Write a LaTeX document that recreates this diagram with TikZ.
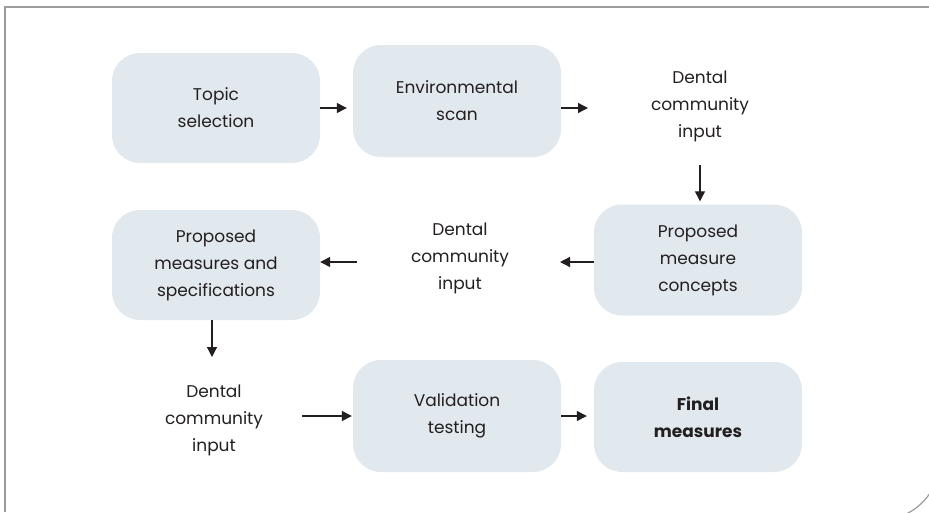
\documentclass[tikz,border=0pt]{standalone}
\usepackage{fontspec}
\setmainfont{Poppins}
\usetikzlibrary{arrows.meta}
\definecolor{boxfill}{HTML}{E1E9EE}
\definecolor{txt}{HTML}{231F20}
\definecolor{frame}{HTML}{9C9C9C}
\begin{document}
\begin{tikzpicture}[x=1pt,y=-1pt,
  stepbox/.style={fill=boxfill, rounded corners=28pt, minimum width=208pt, minimum height=110pt,
    align=center, text=txt, inner sep=0pt, font=\fontsize{17}{27}\selectfont},
  plain/.style={align=center, text=txt, inner sep=0pt, font=\fontsize{17}{27}\selectfont},
  arr/.style={draw=txt, line width=1.3pt, -{Triangle[length=10pt,width=10pt]}}]
\useasboundingbox (0,0) rectangle (929,512);
% frame
\draw[frame, line width=1.4pt] (5,512) -- (5,7) -- (929,7);
\draw[frame, line width=1.2pt] (940,460) arc[start angle=0, end angle=90, radius=60];
% nodes
\node[stepbox] (topic) at (216,108) {Topic\\selection};
\node[stepbox, minimum height=112pt] (env) at (457,101) {Environmental\\scan};
\node[plain] (dci1) at (700,106) {Dental\\community\\input};
\node[stepbox, minimum height=111pt] (pmc) at (698,260) {Proposed\\measure\\concepts};
\node[plain] (dci2) at (460,258) {Dental\\community\\input};
\node[stepbox] (pms) at (216,265) {Proposed\\measures and\\specifications};
\node[plain] (dci3) at (214,420) {Dental\\community\\input};
\node[stepbox, minimum height=112pt] (val) at (457,416) {Validation\\testing};
\node[stepbox] (fin) at (698,417) {\bfseries Final\\\bfseries measures};
% helper coordinates
\coordinate (e1) at (588,108);
\coordinate (d1s) at (700,165);
\coordinate (c1) at (560,262);
\coordinate (d2w) at (357,262);
\coordinate (p1) at (212,357);
\coordinate (d3e) at (302,416);
% connectors
\draw[arr, shorten >=6pt] (topic.east) -- (topic.east -| env.west);
\draw[arr] (env.east |- e1) -- (e1);
\draw[arr, shorten >=3pt] (d1s) -- (d1s |- pmc.north);
\draw[arr] (pmc.west |- c1) -- (c1);
\draw[arr] (d2w) -- (d2w -| pms.east);
\draw[arr] (pms.south -| p1) -- (p1);
\draw[arr, shorten >=1pt] (d3e) -- (d3e -| val.west);
\draw[arr, shorten >=7pt] (val.east) -- (val.east -| fin.west);
\end{tikzpicture}
\end{document}
